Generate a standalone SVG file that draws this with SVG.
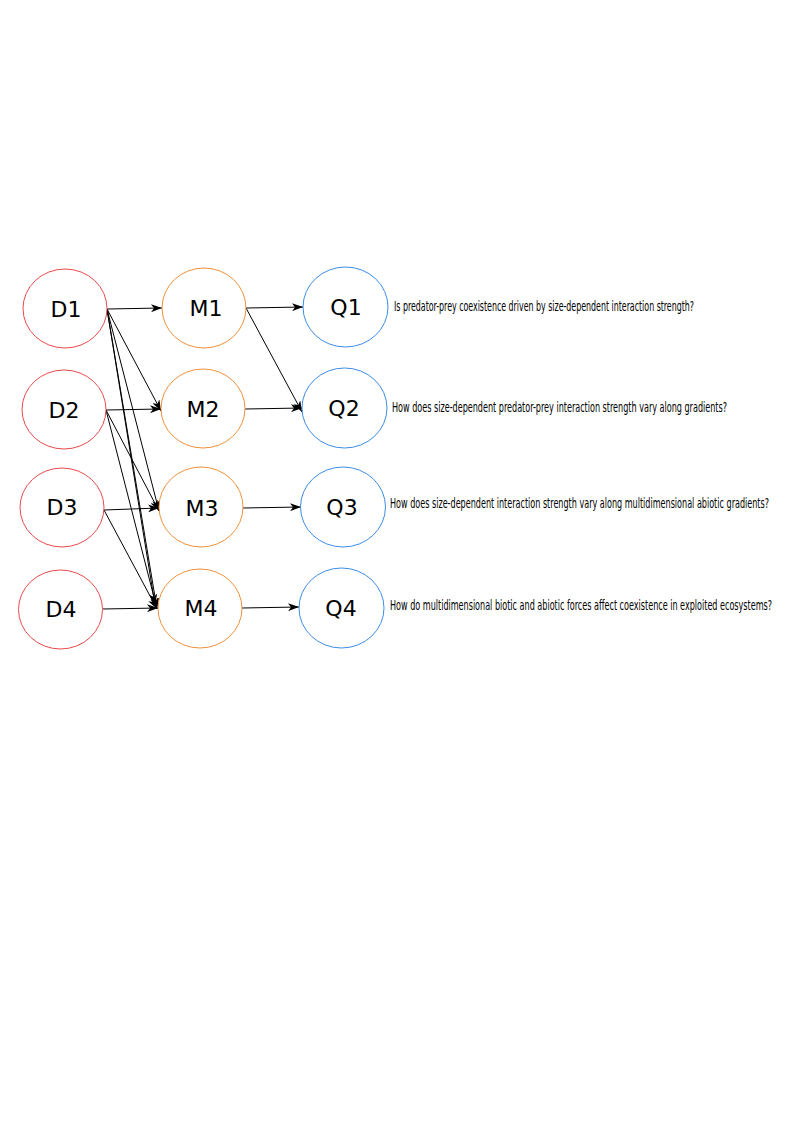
<svg xmlns="http://www.w3.org/2000/svg" width="794" height="1123" viewBox="0 0 794 1123">
<style>
.d{fill:#fff;stroke:#ea4a4a;stroke-width:1}
.m{fill:#fff;stroke:#f0913a;stroke-width:1}
.q{fill:#fff;stroke:#3d8ce8;stroke-width:1}
.lbl{font-family:"DejaVu Sans",sans-serif;font-size:22px;fill:#000;text-anchor:middle}
.txt{font-family:"DejaVu Sans Condensed","DejaVu Sans",sans-serif;font-size:7.5px;fill:#000}
.e{stroke:#000;stroke-width:1;fill:none;marker-end:url(#arr)}
</style>
<defs>
<marker id="arr" markerUnits="userSpaceOnUse" markerWidth="12" markerHeight="8" refX="11" refY="4" orient="auto">
<path d="M0,0 L11,4 L0,8 L3,4 z" fill="#000"/>
</marker>
</defs>
<rect width="794" height="1123" fill="#fff"/>
<g id="connectors">
<line class="e" x1="107" y1="309" x2="162" y2="308"/>
<line class="e" x1="107" y1="309" x2="161" y2="411"/>
<line class="e" x1="107" y1="309" x2="159" y2="511"/>
<line class="e" x1="107" y1="309" x2="157" y2="609"/>
<line class="e" x1="107" y1="309" x2="155" y2="605"/>
<line class="e" x1="106" y1="410" x2="161" y2="409"/>
<line class="e" x1="106" y1="410" x2="159" y2="511"/>
<line class="e" x1="106" y1="410" x2="157" y2="609"/>
<line class="e" x1="104" y1="510" x2="159" y2="508"/>
<line class="e" x1="104" y1="510" x2="157" y2="609"/>
<line class="e" x1="103" y1="609" x2="158" y2="608"/>
<line class="e" x1="246" y1="308" x2="303" y2="307"/>
<line class="e" x1="246" y1="308" x2="302" y2="412"/>
<line class="e" x1="245" y1="409" x2="302" y2="408"/>
<line class="e" x1="243" y1="508" x2="301" y2="507"/>
<line class="e" x1="242" y1="608" x2="299" y2="607"/>
</g>
<g id="D1"><ellipse class="d" cx="65" cy="308.5" rx="42" ry="39.5"/><text class="lbl" x="66" y="317">D1</text></g>
<g id="D2"><ellipse class="d" cx="64" cy="409.5" rx="42" ry="39.5"/><text class="lbl" x="64" y="418">D2</text></g>
<g id="D3"><ellipse class="d" cx="62" cy="507.5" rx="42" ry="39.5"/><text class="lbl" x="62" y="515">D3</text></g>
<g id="D4"><ellipse class="d" cx="60.5" cy="609.5" rx="42" ry="39.5"/><text class="lbl" x="61" y="617">D4</text></g>
<g id="M1"><ellipse class="m" cx="204" cy="308" rx="42" ry="40"/><text class="lbl" x="206" y="316">M1</text></g>
<g id="M2"><ellipse class="m" cx="203" cy="408.5" rx="42" ry="39.5"/><text class="lbl" x="203" y="417">M2</text></g>
<g id="M3"><ellipse class="m" cx="201" cy="507" rx="42" ry="40"/><text class="lbl" x="202" y="516">M3</text></g>
<g id="M4"><ellipse class="m" cx="200" cy="608.5" rx="42" ry="39.5"/><text class="lbl" x="201" y="616">M4</text></g>
<g id="Q1"><ellipse class="q" cx="345.5" cy="307" rx="42.5" ry="40"/><text class="lbl" x="346" y="315">Q1</text></g>
<g id="Q2"><ellipse class="q" cx="344.5" cy="408" rx="42.5" ry="40"/><text class="lbl" x="344" y="416">Q2</text></g>
<g id="Q3"><ellipse class="q" cx="343" cy="507" rx="42.5" ry="40"/><text class="lbl" x="342" y="515">Q3</text></g>
<g id="Q4"><ellipse class="q" cx="341.5" cy="608" rx="42.5" ry="40"/><text class="lbl" x="341" y="616">Q4</text></g>
<g id="labels">
<text class="txt" transform="translate(394,311) scale(1,1.8)" x="0" y="0" textLength="300" lengthAdjust="spacingAndGlyphs">Is predator-prey coexistence driven by size-dependent interaction strength?</text>
<text class="txt" transform="translate(392,412) scale(1,1.8)" x="0" y="0" textLength="335" lengthAdjust="spacingAndGlyphs">How does size-dependent predator-prey interaction strength vary along gradients?</text>
<text class="txt" transform="translate(390,508) scale(1,1.8)" x="0" y="0" textLength="379" lengthAdjust="spacingAndGlyphs">How does size-dependent interaction strength vary along multidimensional abiotic gradients?</text>
<text class="txt" transform="translate(390,610) scale(1,1.8)" x="0" y="0" textLength="382" lengthAdjust="spacingAndGlyphs">How do multidimensional biotic and abiotic forces affect coexistence in exploited ecosystems?</text>
</g>
</svg>
